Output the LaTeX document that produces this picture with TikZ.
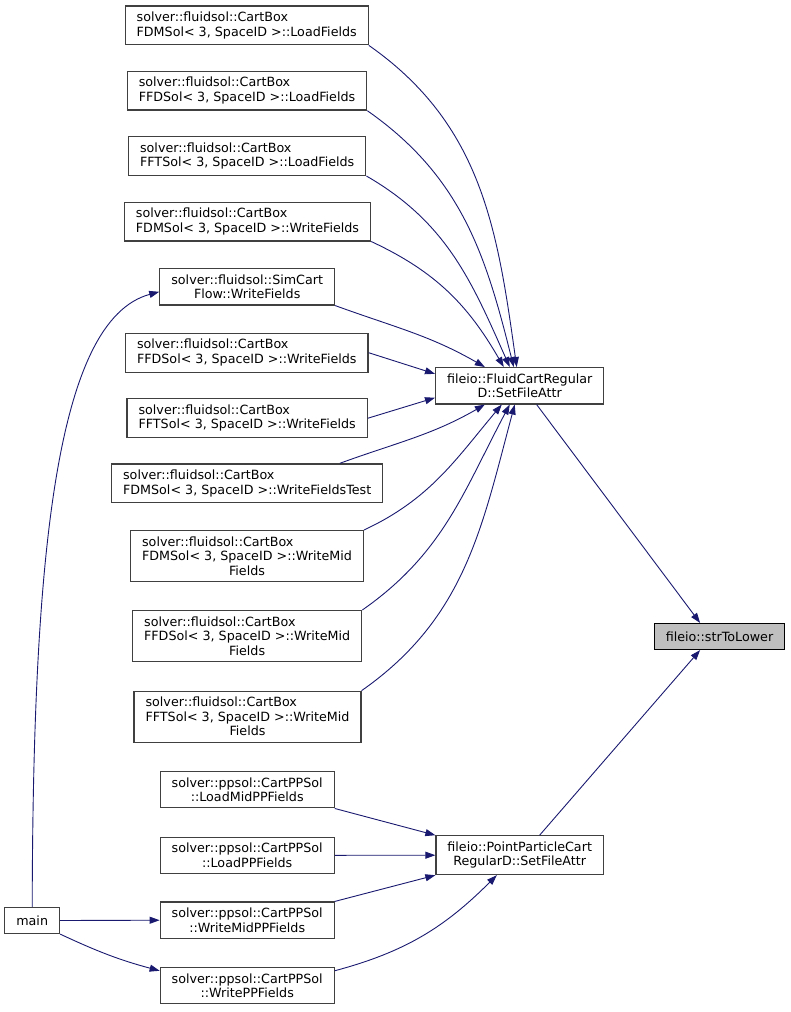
\documentclass[tikz,border=0pt]{standalone}
\usepackage{fontspec}
\setmainfont{DejaVu Sans}
\usetikzlibrary{arrows.meta}
\definecolor{edgeblue}{RGB}{25,25,112}
\definecolor{boxgray}{RGB}{64,64,64}
\definecolor{hlgray}{RGB}{191,191,191}

\begin{document}
\begin{tikzpicture}[x=1bp, y=1bp,
    every node/.style={font=\fontsize{12.7bp}{14.5bp}\selectfont},
    fn/.style={draw=boxgray, line width=1.2bp, fill=white, inner xsep=11.5bp, inner ysep=6bp, minimum height=26bp},
    fnl/.style={fn, align=left},
    fnc/.style={fn, align=center},
    hl/.style={fn, draw=black, fill=hlgray},
    call/.style={draw=edgeblue, line width=0.9bp, -{Triangle[length=10bp,width=7bp]}}]
    \useasboundingbox (0,0) rectangle (791,-1012);
    % fluid solver callers
    \node[fnl] (loadFdm) at (246.7,-25.4) {solver::fluidsol::CartBox\\FDMSol< 3, SpaceID >::LoadFields};
    \node[fnl] (loadFfd) at (247,-90.7) {solver::fluidsol::CartBox\\FFDSol< 3, SpaceID >::LoadFields};
    \node[fnl] (loadFft) at (247.2,-156) {solver::fluidsol::CartBox\\FFTSol< 3, SpaceID >::LoadFields};
    \node[fnl] (writeFdm) at (247.5,-221.5) {solver::fluidsol::CartBox\\FDMSol< 3, SpaceID >::WriteFields};
    \node[fnc] (writeSim) at (247.2,-286.8) {solver::fluidsol::SimCart\\Flow::WriteFields};
    \node[fnl] (writeFfd) at (246.8,-352.7) {solver::fluidsol::CartBox\\FFDSol< 3, SpaceID >::WriteFields};
    \node[fnl] (writeFft) at (247.2,-418.2) {solver::fluidsol::CartBox\\FFTSol< 3, SpaceID >::WriteFields};
    \node[fnl] (writeFdmTest) at (247.2,-483.3) {solver::fluidsol::CartBox\\FDMSol< 3, SpaceID >::WriteFieldsTest};
    \node[fnl] (midFdm) at (247,-556) {solver::fluidsol::CartBox\\FDMSol< 3, SpaceID >::WriteMid\\\hfill Fields\hfill\null};
    \node[fnl] (midFfd) at (247.2,-636) {solver::fluidsol::CartBox\\FFDSol< 3, SpaceID >::WriteMid\\\hfill Fields\hfill\null};
    \node[fnl] (midFft) at (247.5,-716.7) {solver::fluidsol::CartBox\\FFTSol< 3, SpaceID >::WriteMid\\\hfill Fields\hfill\null};
    % particle solver callers
    \node[fnc] (ppLoadMid) at (247.2,-789.7) {solver::ppsol::CartPPSol\\::LoadMidPPFields};
    \node[fnc] (ppLoad) at (247.2,-855.3) {solver::ppsol::CartPPSol\\::LoadPPFields};
    \node[fnc] (ppWriteMid) at (247.2,-920.2) {solver::ppsol::CartPPSol\\::WriteMidPPFields};
    \node[fnc] (ppWrite) at (247.2,-985.7) {solver::ppsol::CartPPSol\\::WritePPFields};
    \node[fn] (main) at (32.2,-920.5) {main};
    % io layer
    \node[fnc] (fluidAttr) at (519.7,-385.8) {fileio::FluidCartRegular\\D::SetFileAttr};
    \node[fnc] (pointAttr) at (519.7,-855.2) {fileio::PointParticleCart\\RegularD::SetFileAttr};
    \node[hl] (strLower) at (719.5,-636.5) {fileio::strToLower};

    \foreach \n/\o/\i/\s in {loadFdm/-35/98/-3, loadFfd/-35/104/-6, loadFft/-30/114/-10, writeFdm/-25/120/-16}
        \draw[call] (\n.south east) to[out=\o, in=\i] ([xshift=\s]fluidAttr.north);
    \draw[call] (writeSim.south east) to[out=-20, in=150] ([xshift=-35]fluidAttr.north);
    \draw[call] (writeFfd.east) -- ([yshift=12]fluidAttr.west);
    \draw[call] (writeFft.east) -- ([yshift=-12]fluidAttr.west);
    \draw[call] ([xshift=93]writeFdmTest.north) to[out=20, in=-150] ([xshift=-35]fluidAttr.south);
    \foreach \n/\o/\i/\s in {midFdm/25/-130/-18, midFfd/35/-118/-10, midFft/35/-105/-5}
        \draw[call] (\n.north east) to[out=\o, in=\i] ([xshift=\s]fluidAttr.south);

    \draw[call] (ppLoadMid.south east) -- (pointAttr.north west);
    \draw[call] (ppLoad.east) -- (pointAttr.west);
    \draw[call] (ppWriteMid.north east) -- (pointAttr.south west);
    \draw[call] ([yshift=15]ppWrite.east) to[out=15, in=-135] ([xshift=-23]pointAttr.south);

    \draw[call] (main.north) .. controls (33,-560) and (55,-320) .. ([yshift=-5]writeSim.west);
    \draw[call] (main.east) -- (ppWriteMid.west);
    \draw[call] (main.south east) to[out=-25, in=165] ([yshift=15]ppWrite.west);

    \draw[call] ([xshift=17]fluidAttr.south) -- ([xshift=-19.5]strLower.north);
    \draw[call] ([xshift=20]pointAttr.north) -- ([xshift=-19.5]strLower.south);
\end{tikzpicture}
\end{document}
